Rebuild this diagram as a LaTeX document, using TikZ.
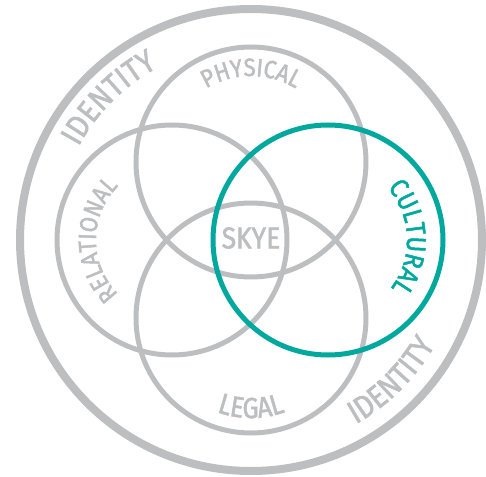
\documentclass[tikz,border=0pt]{standalone}
\usepackage{fontspec}
\setsansfont{Fira Sans}[FakeStretch=0.88, FakeBold=1.8]
\usetikzlibrary{decorations.text}
\definecolor{ringgray}{RGB}{188,190,192}
\definecolor{skyeteal}{RGB}{0,168,157}

\begin{document}
\begin{tikzpicture}[x=1pt, y=1pt, line cap=round,
	ring/.style={draw=ringgray, line width=5pt},
	curved/.style 2 args={decorate, decoration={text along path, text align=center,
		text color=#1, text={#2}}}]
	\def\rsmall{115}
	\def\rbig{231}
	\useasboundingbox (-251,-236) rectangle (235,240);
	\coordinate (skye) at (0,0);
	\coordinate (phys) at (0,78);
	\coordinate (rel) at (-79,0);
	\coordinate (legal) at (0,-78);
	\coordinate (cult) at (77,0);
	\draw[ring, line width=8pt] (skye) circle[radius=\rbig];
	\draw[ring] (phys) circle[radius=\rsmall];
	\draw[ring] (rel) circle[radius=\rsmall];
	\draw[ring] (legal) circle[radius=\rsmall];
	\draw[ring, draw=skyeteal] (cult) circle[radius=\rsmall];
	\node[font=\sffamily\fontsize{30}{30}\selectfont, text=ringgray] (skyelabel) at (0,2) {SKYE};
	% labels along the circles
	\path[curved={ringgray}{|\sffamily\fontsize{25}{25}\selectfont|PHYSICAL}]
		([shift={(150:86)}]phys) arc[start angle=150, end angle=30, radius=86];
	\path[curved={ringgray}{|\sffamily\fontsize{25}{25}\selectfont|RELATIONAL}]
		([shift={(240:76)}]rel) arc[start angle=240, end angle=120, radius=76];
	\path[curved={skyeteal}{|\sffamily\fontsize{27}{27}\selectfont|CULTURAL}]
		([shift={(62:79)}]cult) arc[start angle=62, end angle=-58, radius=79];
	\path[curved={ringgray}{|\sffamily\fontsize{29}{29}\selectfont|LEGAL}]
		([shift={(210:100)}]legal) arc[start angle=210, end angle=330, radius=100];
	\path[curved={ringgray}{|\sffamily\fontsize{32}{32}\selectfont|IDENTITY}]
		([shift={(195:196)}]skye) arc[start angle=195, end angle=75, radius=196];
	\path[curved={ringgray}{|\sffamily\fontsize{32}{32}\selectfont|IDENTITY}]
		([shift={(255:212)}]skye) arc[start angle=255, end angle=375, radius=212];
\end{tikzpicture}
\end{document}
